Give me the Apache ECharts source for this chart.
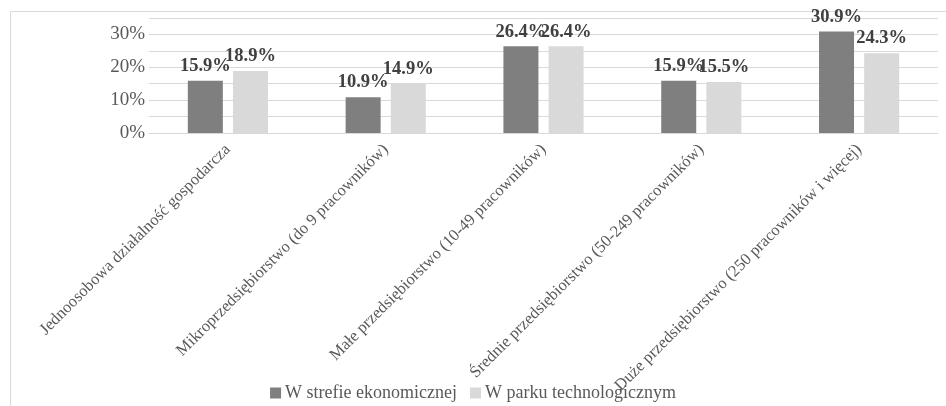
<!DOCTYPE html>
<html>
<head>
<meta charset="utf-8">
<script src="https://cdn.jsdelivr.net/npm/echarts@6/dist/echarts.min.js"></script>
<style>
  html, body { margin: 0; padding: 0; background: #fff; }
  #chart { width: 946px; height: 406px; }
</style>
</head>
<body>
<div id="chart"></div>
<script>
// kategorie i wartości
var categories = [
  'Jednoosobowa działalność gospodarcza',
  'Mikroprzedsiębiorstwo (do 9 pracowników)',
  'Małe przedsiębiorstwo (10-49 pracowników)',
  'Średnie przedsiębiorstwo (50-249 pracowników)',
  'Duże przedsiębiorstwo (250 pracowników i więcej)'
];
var strefa = [15.9, 10.9, 26.4, 15.9, 30.9];
var park = [18.9, 14.9, 26.4, 15.5, 24.3];
var seriesNames = ['W strefie ekonomicznej', 'W parku technologicznym'];

var font = '"Liberation Serif", "DejaVu Serif", serif';

var labelOpt = {
  show: true,
  position: 'top',
  distance: 5,
  fontFamily: font,
  fontWeight: 'bold',
  fontSize: 18.5,
  color: '#404040',
  formatter: function (p) { return p.value.toFixed(1) + '%'; }
};

var myChart = echarts.init(document.getElementById('chart'));
var option = {
  animation: false,
  graphic: [{
    type: 'rect',
    shape: { x: 10.5, y: 11.5, width: 960, height: 420 },
    style: { fill: 'none', stroke: '#d9d9d9', lineWidth: 1 },
    silent: true,
    z: -1
  }],
  grid: { left: 149, right: 8, top: 18, bottom: 273 },
  legend: {
    bottom: -1,
    left: 'center',
    itemWidth: 11,
    itemHeight: 11,
    itemGap: 13,
    icon: 'rect',
    textStyle: { fontFamily: font, fontSize: 18, color: '#595959', padding: [0, 0, 0, -1] },
    data: seriesNames
  },
  xAxis: {
    type: 'category',
    data: categories,
    axisLine: { lineStyle: { color: '#d9d9d9' } },
    axisTick: { show: false },
    axisLabel: {
      rotate: 45,
      interval: 0,
      margin: 14,
      fontFamily: font,
      fontSize: 16.5,
      color: '#595959'
    }
  },
  yAxis: {
    type: 'value',
    min: 0,
    max: 35,
    interval: 5,
    axisLine: { show: false },
    axisTick: { show: false },
    splitLine: { lineStyle: { color: '#d9d9d9', width: 1 } },
    axisLabel: {
      fontFamily: font,
      fontSize: 19,
      color: '#595959',
      margin: 4,
      formatter: function (v) { return v % 10 === 0 && v < 35 ? v + '%' : ''; }
    }
  },
  series: [
    {
      name: seriesNames[0],
      type: 'bar',
      data: strefa,
      barWidth: 35,
      barGap: '29%',
      itemStyle: { color: '#7f7f7f' },
      label: labelOpt
    },
    {
      name: seriesNames[1],
      type: 'bar',
      data: park,
      barWidth: 35,
      itemStyle: { color: '#d9d9d9' },
      label: labelOpt
    }
  ]
};
myChart.setOption(option);
</script>
</body>
</html>
